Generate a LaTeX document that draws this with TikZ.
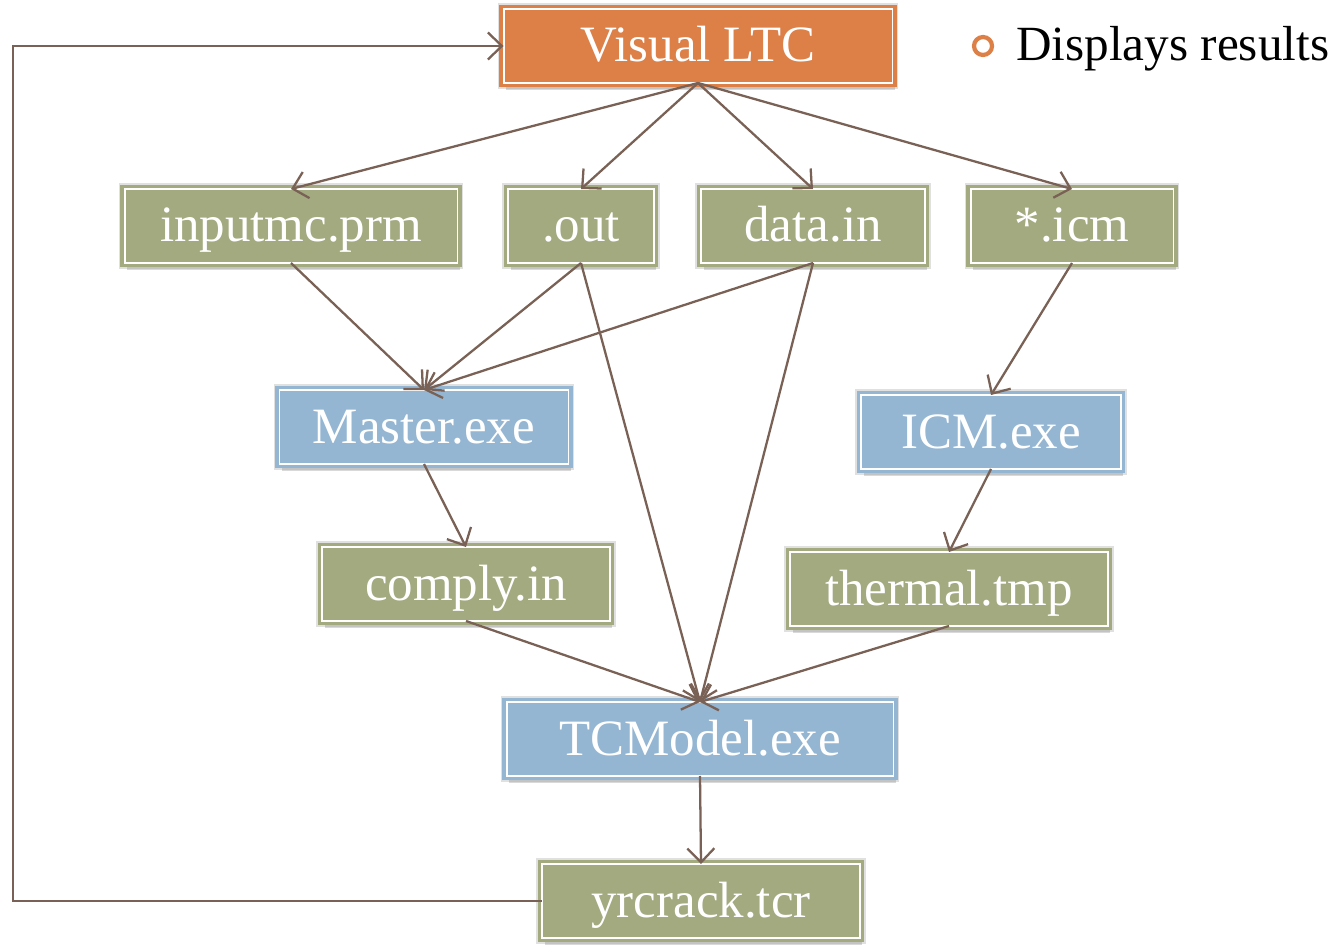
\documentclass[tikz,border=0pt]{standalone}
\usepackage{fontspec}
\setmainfont{Liberation Serif}
\usetikzlibrary{arrows.meta, positioning, shadows}
\usepackage{xcolor}
\definecolor{ltcorange}{RGB}{221,128,72}
\definecolor{filegreen}{RGB}{163,170,128}
\definecolor{exeblue}{RGB}{148,182,210}
\definecolor{arrowc}{RGB}{122,97,85}

\begin{document}
\begin{tikzpicture}[
    x=0.02cm, y=-0.02cm,
    box/.style={rectangle, minimum height=1.48cm, outer sep=0pt, text=white,
        font=\fontsize{29}{34}\selectfont, text height=0.68cm, text depth=0.04cm,
        draw=#1, fill=#1, double=white, line width=1.8pt, double distance=1.1pt,
        preaction={draw=black!12, line width=6.4pt},
        drop shadow={shadow xshift=0.5mm, shadow yshift=-1.4mm, opacity=0.3}},
    file/.style={box=filegreen},
    exe/.style={box=exeblue},
    arr/.style={-{Straight Barb[length=2.8mm, width=5.4mm]}, arrowc, line width=1.3pt},
]
\useasboundingbox (0,0) rectangle (1338,946);

% Boxes
\node[box=ltcorange, minimum width=7.78cm] (vltc) at (698,46) {Visual LTC};
\node[file, minimum width=6.66cm] (inputmc) at (291,226) {inputmc.prm};
\node[file, minimum width=2.92cm] (out) at (581,226) {.out};
\node[file, minimum width=4.48cm] (datain) at (813,226) {data.in};
\node[file, minimum width=4.06cm] (icm) at (1072,226) {*.icm};
\node[exe, minimum width=5.78cm] (master) at (424,427) {Master.exe};
\node[exe, minimum width=5.2cm] (icmexe) at (991,432) {ICM.exe};
\node[file, minimum width=5.76cm] (comply) at (466,584) {comply.in};
\node[file, minimum width=6.36cm] (thermal) at (949,589) {thermal.tmp};
\node[exe, minimum width=7.74cm] (tcmodel) at (700,739) {TCModel.exe};
\node[file, minimum width=6.36cm] (yrcrack) at (701,901) {yrcrack.tcr};

% Legend
\node[circle, draw=ltcorange, line width=2.4pt, minimum size=0.36cm, inner sep=0pt] (bullet) at (983,46) {};
\node[anchor=base west, font=\fontsize{28}{34}\selectfont] (disp) at (1010,61) {Displays results};

% Arrows
\draw[arr] (vltc.south) -- (inputmc.north);
\draw[arr] (vltc.south) -- (out.north);
\draw[arr] (vltc.south) -- (datain.north);
\draw[arr] (vltc.south) -- (icm.north);
\draw[arr] (inputmc.south) -- (master.north);
\draw[arr] (out.south) -- (master.north);
\draw[arr] (datain.south) -- (master.north);
\draw[arr] (out.south) -- (tcmodel.north);
\draw[arr] (datain.south) -- (tcmodel.north);
\draw[arr] (icm.south) -- (icmexe.north);
\draw[arr] (master.south) -- (comply.north);
\draw[arr] (icmexe.south) -- (thermal.north);
\draw[arr] (comply.south) -- (tcmodel.north);
\draw[arr] (thermal.south) -- (tcmodel.north);
\draw[arr] (tcmodel.south) -- (yrcrack.north);

% Loop back
\coordinate (loopx) at (13,0);
\draw[arr] (yrcrack.west) -- (yrcrack.west -| loopx) |- (vltc.west);

\end{tikzpicture}
\end{document}
